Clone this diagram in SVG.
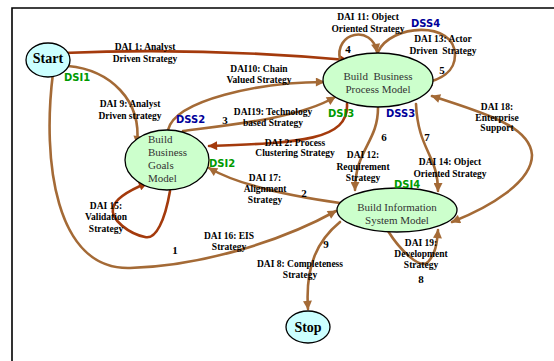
<svg xmlns="http://www.w3.org/2000/svg" width="554" height="361" viewBox="0 0 554 361">
<style>
.frame{stroke:#000;stroke-width:1.6;fill:none}
.e{fill:none;stroke-width:2.6;stroke-linecap:round}
.lb{stroke:#a46a36;marker-end:url(#ab)}
.dr{stroke:#a43a0c;marker-end:url(#ar)}
.term{fill:#ccffff;stroke:#000;stroke-width:1.3}
.proc{fill:#ccffcc;stroke:#000;stroke-width:1.3}
.tt{font-family:"Liberation Serif",serif;font-weight:bold;font-size:14px;fill:#000;text-anchor:middle}
.nt{font-family:"Liberation Serif",serif;font-size:11px;fill:#333}
.lab{font-family:"Liberation Serif",serif;font-weight:bold;font-size:9.5px;fill:#000;text-anchor:middle}
.num{font-family:"Liberation Serif",serif;font-weight:bold;font-size:11px;fill:#000;text-anchor:middle}
.dsi{font-family:"DejaVu Sans",sans-serif;font-weight:bold;font-size:10px;fill:#009a00}
.dss{font-family:"DejaVu Sans",sans-serif;font-weight:bold;font-size:10px;fill:#000099}
</style>
<defs>
<marker id="ab" viewBox="0 0 10 10" refX="9" refY="5" markerUnits="userSpaceOnUse" markerWidth="10" markerHeight="9" orient="auto-start-reverse"><path d="M0,0 L10,5 L0,10 z" fill="#a46a36"/></marker>
<marker id="ar" viewBox="0 0 10 10" refX="9" refY="5" markerUnits="userSpaceOnUse" markerWidth="10" markerHeight="9" orient="auto"><path d="M0,0 L10,5 L0,10 z" fill="#a43a0c"/></marker>
</defs>
<rect width="554" height="361" fill="#fff"/>
<path class="frame" d="M12,361 L12,8 L554,8"/>

<g id="connectors">
<path class="e dr" d="M63,53 Q200,47 347,60"/>
<path class="e lb" d="M68,66 C110,70 142,100 137,144"/>
<path class="e lb" d="M53,73 C42,160 55,270 130,268 C200,266 280,242 336,211"/>
<path class="e lb" d="M168,130 C175,100 260,82 324,82"/>
<path class="e lb" d="M183,131 C230,125 300,118 335,97"/>
<path class="e dr" d="M347,104 C349,140 300,143 209,146"/>
<path class="e lb" d="M340,203 C290,196 240,186 209,168"/>
<path class="e dr" d="M170,191 C165,220 156,240 145,237 C130,234 110,220 113,208 C115,198 130,190 147,183"/>
<path class="e lb" d="M340,60 C334,32 372,24 377,52"/>
<path class="e lb" d="M378,52 C390,24 455,20 455,55 C455,72 440,80 424,83"/>
<path class="e lb" style="marker-start:url(#ab)" d="M432,96 C480,112 530,125 532,155 C532,182 490,207 452,222"/>
<path class="e lb" d="M378,108 C378,142 355,150 355,190"/>
<path class="e lb" d="M416,104 C418,150 438,155 438,191"/>
<path class="e lb" d="M388,231 C400,250 420,270 428,262 C435,254 437,245 438,230"/>
<path class="e lb" d="M340,222 C318,240 305,265 308,309"/>
</g>

<g id="start"><ellipse class="term" cx="48" cy="60" rx="22" ry="17"/><text class="tt" x="48" y="63">Start</text></g>
<g id="bbp"><ellipse class="proc" cx="378" cy="80" rx="55" ry="27"/><text class="nt" x="378" y="80" text-anchor="middle" xml:space="preserve">Build  Business</text><text class="nt" x="378" y="93" text-anchor="middle">Process Model</text></g>
<g id="bbg"><ellipse class="proc" cx="167" cy="160" rx="42" ry="30"/><text class="nt" x="148" y="143">Build</text><text class="nt" x="148" y="156">Business</text><text class="nt" x="148" y="169">Goals</text><text class="nt" x="148" y="182">Model</text></g>
<g id="bis"><ellipse class="proc" cx="397" cy="210" rx="60" ry="22"/><text class="nt" x="397" y="211" text-anchor="middle">Build Information</text><text class="nt" x="397" y="224" text-anchor="middle">System Model</text></g>
<g id="stop"><ellipse class="term" cx="308" cy="327" rx="22" ry="16"/><text class="tt" x="308" y="332">Stop</text></g>

<g id="labels">
<text class="lab" x="145" y="50">DAI 1: Analyst</text><text class="lab" x="145" y="62">Driven Strategy</text>
<text class="lab" x="130" y="107">DAI 9: Analyst</text><text class="lab" x="130" y="119">Driven strategy</text>
<text class="lab" x="259" y="72">DAI10: Chain</text><text class="lab" x="259" y="83">Valued Strategy</text>
<text class="lab" x="273" y="115">DAI19: Technology</text><text class="lab" x="273" y="126">based Strategy</text>
<text class="lab" x="295" y="146">DAI 2: Process</text><text class="lab" x="295" y="156">Clustering Strategy</text>
<text class="lab" x="265" y="181">DAI 17:</text><text class="lab" x="265" y="192">Alignment</text><text class="lab" x="265" y="203">Strategy</text>
<text class="lab" x="106" y="209">DAI 15:</text><text class="lab" x="106" y="220">Validation</text><text class="lab" x="106" y="232">Strategy</text>
<text class="lab" x="229" y="239">DAI 16: EIS</text><text class="lab" x="229" y="250">Strategy</text>
<text class="lab" x="368" y="20">DAI 11: Object</text><text class="lab" x="368" y="32">Oriented Strategy</text>
<text class="lab" x="443" y="42">DAI 13: Actor</text><text class="lab" x="443" y="54" xml:space="preserve">Driven  Strategy</text>
<text class="lab" x="497" y="110">DAI 18:</text><text class="lab" x="497" y="121">Enterprise</text><text class="lab" x="497" y="131">Support</text>
<text class="lab" x="363" y="158">DAI 12:</text><text class="lab" x="363" y="170">Requirement</text><text class="lab" x="363" y="181">Strategy</text>
<text class="lab" x="450" y="165">DAI 14: Object</text><text class="lab" x="450" y="177">Oriented Strategy</text>
<text class="lab" x="421" y="246">DAI 19:</text><text class="lab" x="421" y="257">Development</text><text class="lab" x="421" y="268">Strategy</text>
<text class="lab" x="300" y="267">DAI 8: Completeness</text><text class="lab" x="300" y="278">Strategy</text>
<text class="num" x="175" y="254">1</text>
<text class="num" x="304" y="197">2</text>
<text class="num" x="225" y="124">3</text>
<text class="num" x="348" y="53">4</text>
<text class="num" x="442" y="74">5</text>
<text class="num" x="384" y="141">6</text>
<text class="num" x="427" y="141">7</text>
<text class="num" x="421" y="283">8</text>
<text class="num" x="326" y="248">9</text>
<text class="dsi" x="64" y="81">DSI1</text>
<text class="dsi" x="209" y="167">DSI2</text>
<text class="dsi" x="328" y="117">DSI3</text>
<text class="dsi" x="394" y="188">DSI4</text>
<text class="dss" x="176" y="123">DSS2</text>
<text class="dss" x="386" y="117">DSS3</text>
<text class="dss" x="411" y="27">DSS4</text>
</g>
</svg>
